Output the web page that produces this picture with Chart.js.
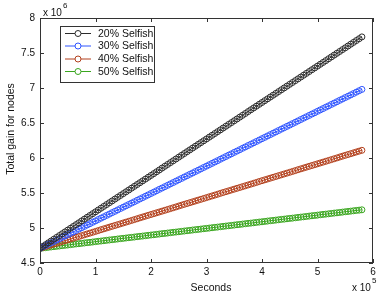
<!DOCTYPE html>
<html>
<head>
<meta charset="utf-8">
<script src="https://cdn.jsdelivr.net/npm/chart.js@4"></script>
<style>
  html, body { margin: 0; padding: 0; background: #fff; }
  #wrap { width: 379px; height: 296px; position: relative; }
</style>
</head>
<body>
<div id="wrap"><canvas id="gainChart"></canvas></div>
<script>
// x values in units of 1e5 seconds
const secondsE5 = [0,0.05,0.1,0.15,0.2,0.25,0.3,0.35,0.4,0.45,0.5,0.55,0.6,0.65,0.7,0.75,0.8,0.85,0.9,0.95,
    1.0,1.05,1.1,1.15,1.2,1.25,1.3,1.35,1.4,1.45,1.5,1.55,1.6,1.65,1.7,1.75,1.8,1.85,1.9,1.95,
    2.0,2.05,2.1,2.15,2.2,2.25,2.3,2.35,2.4,2.45,2.5,2.55,2.6,2.65,2.7,2.75,2.8,2.85,2.9,2.95,
    3.0,3.05,3.1,3.15,3.2,3.25,3.3,3.35,3.4,3.45,3.5,3.55,3.6,3.65,3.7,3.75,3.8,3.85,3.9,3.95,
    4.0,4.05,4.1,4.15,4.2,4.25,4.3,4.35,4.4,4.45,4.5,4.55,4.6,4.65,4.7,4.75,4.8,4.85,4.9,4.95,
    5.0,5.05,5.1,5.15,5.2,5.25,5.3,5.35,5.4,5.45,5.5,5.55,5.6,5.65,5.7,5.75,5.8];

// total gain in units of 1e6
const selfish20 = [4.710,4.736,4.762,4.788,4.814,4.840,4.866,4.892,4.918,4.944,4.970,4.996,5.022,5.048,5.074,5.101,5.127,5.153,5.179,5.205,
    5.231,5.257,5.283,5.309,5.335,5.361,5.387,5.413,5.439,5.465,5.491,5.517,5.543,5.569,5.595,5.621,5.647,5.673,5.699,5.725,
    5.751,5.777,5.803,5.829,5.856,5.882,5.908,5.934,5.960,5.986,6.012,6.038,6.064,6.090,6.116,6.142,6.168,6.194,6.220,6.246,
    6.272,6.298,6.324,6.350,6.376,6.402,6.428,6.454,6.480,6.506,6.532,6.558,6.584,6.610,6.636,6.663,6.689,6.715,6.741,6.767,
    6.793,6.819,6.845,6.871,6.897,6.923,6.949,6.975,7.001,7.027,7.053,7.079,7.105,7.131,7.157,7.183,7.209,7.235,7.261,7.287,
    7.313,7.339,7.365,7.391,7.418,7.444,7.470,7.496,7.522,7.548,7.574,7.600,7.626,7.652,7.678,7.704,7.730];
const selfish30 = [4.710,4.730,4.749,4.769,4.788,4.808,4.827,4.847,4.867,4.886,4.906,4.925,4.945,4.964,4.984,5.004,5.023,5.043,5.062,5.082,
    5.101,5.121,5.141,5.160,5.180,5.199,5.219,5.238,5.258,5.278,5.297,5.317,5.336,5.356,5.375,5.395,5.415,5.434,5.454,5.473,
    5.493,5.512,5.532,5.552,5.571,5.591,5.610,5.630,5.649,5.669,5.689,5.708,5.728,5.747,5.767,5.786,5.806,5.825,5.845,5.865,
    5.884,5.904,5.923,5.943,5.962,5.982,6.002,6.021,6.041,6.060,6.080,6.099,6.119,6.139,6.158,6.178,6.197,6.217,6.236,6.256,
    6.276,6.295,6.315,6.334,6.354,6.373,6.393,6.413,6.432,6.452,6.471,6.491,6.510,6.530,6.550,6.569,6.589,6.608,6.628,6.647,
    6.667,6.687,6.706,6.726,6.745,6.765,6.784,6.804,6.824,6.843,6.863,6.882,6.902,6.921,6.941,6.961,6.980];
const selfish40 = [4.710,4.722,4.734,4.746,4.758,4.770,4.782,4.794,4.807,4.819,4.831,4.843,4.855,4.867,4.879,4.891,4.903,4.915,4.927,4.939,
    4.951,4.963,4.976,4.988,5.000,5.012,5.024,5.036,5.048,5.060,5.072,5.084,5.096,5.108,5.120,5.132,5.145,5.157,5.169,5.181,
    5.193,5.205,5.217,5.229,5.241,5.253,5.265,5.277,5.289,5.301,5.314,5.326,5.338,5.350,5.362,5.374,5.386,5.398,5.410,5.422,
    5.434,5.446,5.458,5.470,5.482,5.495,5.507,5.519,5.531,5.543,5.555,5.567,5.579,5.591,5.603,5.615,5.627,5.639,5.651,5.664,
    5.676,5.688,5.700,5.712,5.724,5.736,5.748,5.760,5.772,5.784,5.796,5.808,5.820,5.833,5.845,5.857,5.869,5.881,5.893,5.905,
    5.917,5.929,5.941,5.953,5.965,5.977,5.989,6.001,6.014,6.026,6.038,6.050,6.062,6.074,6.086,6.098,6.110];
const selfish50 = [4.710,4.715,4.719,4.724,4.729,4.734,4.738,4.743,4.748,4.753,4.757,4.762,4.767,4.772,4.776,4.781,4.786,4.791,4.795,4.800,
    4.805,4.810,4.814,4.819,4.824,4.829,4.833,4.838,4.843,4.848,4.852,4.857,4.862,4.866,4.871,4.876,4.881,4.885,4.890,4.895,
    4.900,4.904,4.909,4.914,4.919,4.923,4.928,4.933,4.938,4.942,4.947,4.952,4.957,4.961,4.966,4.971,4.976,4.980,4.985,4.990,
    4.994,4.999,5.004,5.009,5.013,5.018,5.023,5.028,5.032,5.037,5.042,5.047,5.051,5.056,5.061,5.066,5.070,5.075,5.080,5.085,
    5.089,5.094,5.099,5.104,5.108,5.113,5.118,5.123,5.127,5.132,5.137,5.141,5.146,5.151,5.156,5.160,5.165,5.170,5.175,5.179,
    5.184,5.189,5.194,5.198,5.203,5.208,5.213,5.217,5.222,5.227,5.232,5.236,5.241,5.246,5.251,5.255,5.260];

const seriesNames  = ["20% Selfish", "30% Selfish", "40% Selfish", "50% Selfish"];
const seriesColors = ["#2b2b2b", "#2f55ff", "#b3411e", "#3aa61f"];
const seriesValues = [selfish20, selfish30, selfish40, selfish50];

const FONT = "'Liberation Sans', Arial, Helvetica, sans-serif";

function toPoints(vals) {
    return vals.map(function (v, i) { return { x: secondsE5[i], y: v }; });
}

const datasets = seriesValues.map(function (vals, i) {
    return {
        label: seriesNames[i],
        data: toPoints(vals),
        borderColor: seriesColors[i],
        borderWidth: 1,
        pointRadius: 3,
        pointBorderWidth: 1,
        pointBackgroundColor: "rgba(0,0,0,0)",
        pointBorderColor: seriesColors[i],
        tension: 0
    };
});

// frame, inward ticks, legend, titles and exponents (MATLAB look)
const matlabDecor = {
    id: "matlabDecor",
    afterDraw: function (chart) {
        const c = chart.ctx;
        const a = chart.chartArea;
        const xs = chart.scales.x, ys = chart.scales.y;
        c.save();
        c.strokeStyle = "#333";
        c.lineWidth = 1;
        c.strokeRect(Math.round(a.left) + 0.5, Math.round(a.top) + 0.5, Math.round(a.right - a.left) - 1, Math.round(a.bottom - a.top) - 1);

        // inward tick marks
        const tl = 4;
        c.beginPath();
        xs.ticks.forEach(function (t) {
            const px = Math.round(xs.getPixelForValue(t.value)) + 0.5;
            c.moveTo(px, a.bottom); c.lineTo(px, a.bottom - tl);
            c.moveTo(px, a.top); c.lineTo(px, a.top + tl);
        });
        ys.ticks.forEach(function (t) {
            const py = Math.round(ys.getPixelForValue(t.value)) + 0.5;
            c.moveTo(a.left, py); c.lineTo(a.left + tl, py);
            c.moveTo(a.right, py); c.lineTo(a.right - tl, py);
        });
        c.stroke();

        // legend box
        const lx = 60.5, ly = 26.5, lw = 94, lh = 56;
        c.fillStyle = "#fff";
        c.fillRect(lx, ly, lw, lh);
        c.strokeStyle = "#333";
        c.strokeRect(lx, ly, lw, lh);
        const rowY = [33.5, 46, 59, 71.5];
        c.font = "10.5px " + FONT;
        c.textBaseline = "middle";
        c.textAlign = "left";
        seriesNames.forEach(function (name, i) {
            c.strokeStyle = seriesColors[i];
            c.beginPath();
            c.moveTo(65, rowY[i]); c.lineTo(91, rowY[i]);
            c.stroke();
            c.beginPath();
            c.arc(78, rowY[i], 3, 0, Math.PI * 2);
            c.fillStyle = "#fff";
            c.fill();
            c.stroke();
            c.fillStyle = "#111";
            c.fillText(name, 98, rowY[i] + 0.5);
        });

        // axis titles
        c.fillStyle = "#111";
        c.font = "10.5px " + FONT;
        c.textAlign = "center";
        c.fillText("Seconds", 211, 288);
        c.save();
        c.translate(11.5, 129);
        c.rotate(-Math.PI / 2);
        c.fillText("Total gain for nodes", 0, 0);
        c.restore();

        // exponent labels
        c.textAlign = "left";
        c.font = "10px " + FONT;
        c.fillText("x 10", 43, 13);
        c.font = "8px " + FONT;
        c.fillText("6", 63, 6);
        c.font = "10px " + FONT;
        c.fillText("x 10", 352, 288);
        c.font = "8px " + FONT;
        c.fillText("5", 372, 281);
        c.restore();
    }
};

new Chart(document.getElementById("gainChart"), {
    type: "line",
    data: { datasets: datasets },
    options: {
        responsive: true,
        maintainAspectRatio: false,
        animation: false,
        layout: { padding: { top: 18, right: 6, left: 0, bottom: 0 } },
        plugins: {
            legend: { display: false },
            tooltip: { enabled: false }
        },
        scales: {
            x: {
                type: "linear",
                min: 0, max: 6,
                ticks: { stepSize: 1, padding: 3, color: "#111", font: { family: FONT, size: 10 } },
                grid: { display: false, drawTicks: false },
                border: { display: false },
                afterFit: function (s) { s.height = 33; }
            },
            y: {
                type: "linear",
                min: 4.5, max: 8,
                ticks: {
                    stepSize: 0.5, padding: 5, color: "#111", font: { family: FONT, size: 10 },
                    callback: function (v) { return String(Number(v.toFixed(1))); }
                },
                grid: { display: false, drawTicks: false },
                border: { display: false },
                afterFit: function (s) { s.width = 40; }
            }
        }
    },
    plugins: [matlabDecor]
});
</script>
</body>
</html>
